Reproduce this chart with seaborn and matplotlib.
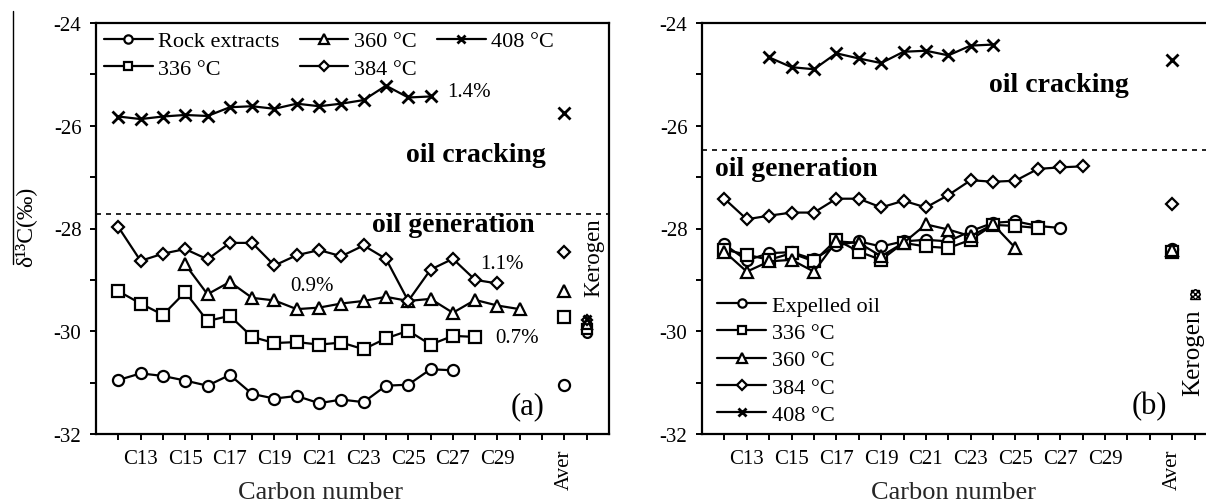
import matplotlib
matplotlib.use("Agg")
import matplotlib.pyplot as plt
import pandas as pd
import seaborn as sns
from matplotlib.lines import Line2D
from matplotlib.ticker import MultipleLocator

# ---------------- data: panel (a) rock extracts and pyrolysis residues ----------------
a_labels = ["Rock extracts", "336 °C", "360 °C", "384 °C", "408 °C"]
a_rock_c = list(range(12, 28))
a_rock = [-30.95, -30.82, -30.87, -30.96, -31.06, -30.85, -31.22, -31.31,
          -31.26, -31.40, -31.33, -31.38, -31.06, -31.04, -30.74, -30.76]
a_336_c = list(range(12, 29))
a_336 = [-29.22, -29.46, -29.68, -29.24, -29.80, -29.70, -30.11, -30.23, -30.21,
         -30.26, -30.22, -30.35, -30.14, -29.99, -30.26, -30.09, -30.11]
a_360_c = list(range(15, 31))
a_360 = [-28.70, -29.28, -29.04, -29.35, -29.40, -29.57, -29.54, -29.46,
         -29.41, -29.33, -29.41, -29.37, -29.64, -29.39, -29.50, -29.57]
a_384_c = list(range(12, 30))
a_384 = [-27.97, -28.63, -28.49, -28.40, -28.60, -28.28, -28.28, -28.72, -28.52,
         -28.42, -28.54, -28.33, -28.59, -29.41, -28.80, -28.59, -29.00, -29.07]
a_408_c = list(range(12, 27))
a_408 = [-25.82, -25.87, -25.82, -25.79, -25.81, -25.64, -25.62, -25.67,
         -25.57, -25.62, -25.57, -25.50, -25.22, -25.45, -25.43]
a_aver = [-31.04, -29.72, -29.22, -28.46, -25.75]
a_kerogen = [-30.03, -29.95, -29.85, -29.78, -29.76]

# ---------------- data: panel (b) expelled oils ----------------
b_labels = ["Expelled oil", "336 °C", "360 °C", "384 °C", "408 °C"]
b_exp_c = list(range(12, 28))
b_exp = [-28.31, -28.62, -28.48, -28.46, -28.60, -28.33, -28.25, -28.35,
         -28.25, -28.22, -28.25, -28.05, -27.89, -27.86, -27.95, -27.99]
b_336_c = list(range(12, 27))
b_336 = [-28.41, -28.51, -28.61, -28.48, -28.64, -28.22, -28.45, -28.61,
         -28.28, -28.35, -28.38, -28.22, -27.93, -27.95, -27.99]
b_360_c = list(range(12, 26))
b_360 = [-28.45, -28.84, -28.64, -28.61, -28.84, -28.25, -28.28, -28.54,
         -28.28, -27.92, -28.02, -28.15, -27.92, -28.38]
b_384_c = list(range(12, 29))
b_384 = [-27.42, -27.82, -27.75, -27.69, -27.69, -27.42, -27.42, -27.59, -27.46,
         -27.59, -27.35, -27.06, -27.09, -27.07, -26.84, -26.81, -26.79]
b_408_c = list(range(14, 25))
b_408 = [-24.67, -24.86, -24.90, -24.59, -24.69, -24.78, -24.56, -24.54,
         -24.63, -24.44, -24.42]
b_aver = [-28.40, -28.45, -28.42, -27.53, -24.72]
b_kerogen = [-29.28, -29.28, -29.28, -29.28, -29.28]

AVER_POS = 32
KEROGEN_POS = 33
tick_positions = list(range(12, 34))

# marker, size, edge width for each of the five series
markers = [("o", 8.0, 1.6), ("s", 8.5, 1.6), ("^", 9.0, 1.6), ("D", 6.2, 1.6), ("x", 8.0, 2.0)]

sns.set_theme(style="ticks")
plt.rcParams.update({
    "font.family": ["Liberation Serif", "DejaVu Serif"],
    "axes.unicode_minus": False,
    "axes.linewidth": 1.6,
    "axes.edgecolor": "black",
    "xtick.color": "black", "ytick.color": "black", "text.color": "black",
    "xtick.major.width": 1.4, "ytick.major.width": 1.4, "ytick.minor.width": 1.4,
    "xtick.major.size": 4.5, "ytick.major.size": 4.5, "ytick.minor.size": 4.5,
    "xtick.labelsize": 15, "ytick.labelsize": 15,
})

fig = plt.figure(figsize=(12.06, 5.02), dpi=100)
ax_a = fig.add_axes([96 / 1206, 67 / 502, 513 / 1206, 411 / 502])
ax_b = fig.add_axes([702 / 1206, 67 / 502, 515 / 1206, 411 / 502])


def draw_series(ax, carbons, values, style, label):
    marker, ms, mew = style
    df = pd.DataFrame({"carbon": carbons, "d13c": values})
    sns.lineplot(data=df, x="carbon", y="d13c", ax=ax, color="black", lw=1.6,
                 marker=marker, markersize=ms, markerfacecolor="white",
                 markeredgecolor="black", markeredgewidth=mew, label=label,
                 legend=False)
    return ax.lines[-1]


def draw_point(ax, x, y, style, scale=1.0, edge=None):
    marker, ms, mew = style
    ax.plot([x], [y], ls="none", marker=marker, markersize=ms * scale,
            markerfacecolor="white", markeredgecolor="black",
            markeredgewidth=mew if edge is None else edge)


def style_axes(ax, xlabel_x):
    ax.set_xlim(11, 34)
    ax.set_ylim(-32, -24)
    ax.yaxis.set_major_locator(MultipleLocator(2))
    ax.yaxis.set_minor_locator(MultipleLocator(1))
    labels = []
    for c in tick_positions:
        if c == AVER_POS:
            labels.append("Aver")
        elif c % 2 == 1 and 13 <= c <= 29:
            labels.append(f"C{c}")
        else:
            labels.append("")
    ax.set_xticks(tick_positions)
    ax.set_xticklabels(labels)
    for t, c in zip(ax.get_xticklabels(), tick_positions):
        if c == AVER_POS:
            t.set_rotation(90)
    ax.tick_params(axis="x", which="both", direction="out", pad=6)
    ax.tick_params(axis="y", which="both", direction="out", pad=6)
    ax.set_ylabel("")
    ax.set_xlabel("Carbon number", fontsize=19)
    ax.xaxis.set_label_coords(xlabel_x, -0.14)
    ax.xaxis.label.set_va("center")
    for s in ax.spines.values():
        s.set_linewidth(1.6)
        s.set_color("black")


# ---------------- panel (a) ----------------
a_series = [(a_rock_c, a_rock), (a_336_c, a_336), (a_360_c, a_360),
            (a_384_c, a_384), (a_408_c, a_408)]
a_handles = []
for (cs, vs), st, lab in zip(a_series, markers, a_labels):
    a_handles.append(draw_series(ax_a, cs, vs, st, lab))
for v, st in zip(a_aver, markers):
    draw_point(ax_a, AVER_POS, v, st)
for v, st in zip(a_kerogen, markers):
    draw_point(ax_a, KEROGEN_POS, v, st, scale=0.8)

ax_a.axhline(-27.72, color="black", lw=1.2, ls=(0, (3, 3)))
ax_a.text(28.04, -26.55, "oil cracking", fontsize=20, fontweight="bold",
          ha="center", va="center")
ax_a.text(27.0, -27.93, "oil generation", fontsize=20, fontweight="bold",
          ha="center", va="center")
ax_a.text(26.73, -25.34, "1.4%", fontsize=15, ha="left", va="center")
ax_a.text(19.73, -29.11, "0.9%", fontsize=15, ha="left", va="center")
ax_a.text(28.22, -28.69, "1.1%", fontsize=15, ha="left", va="center")
ax_a.text(28.89, -30.12, "0.7%", fontsize=15, ha="left", va="center")
ax_a.text(30.33, -31.45, "(a)", fontsize=22, ha="center", va="center")
ax_a.text(33.3, -28.55, "Kerogen", fontsize=16.5, rotation=90, ha="center", va="center")

ax_a.legend(a_handles, a_labels, loc="upper left", ncol=3, frameon=False,
            fontsize=16, handlelength=2.2, handletextpad=0.25, columnspacing=0.9,
            labelspacing=0.3, borderaxespad=0.15, borderpad=0.2, markerscale=0.75)
style_axes(ax_a, 0.437)

# ---------------- panel (b) ----------------
b_series = [(b_exp_c, b_exp), (b_336_c, b_336), (b_360_c, b_360),
            (b_384_c, b_384), (b_408_c, b_408)]
b_handles = []
for (cs, vs), st, lab in zip(b_series, markers, b_labels):
    b_handles.append(draw_series(ax_b, cs, vs, st, lab))
for v, st in zip(b_aver, markers):
    draw_point(ax_b, AVER_POS, v, st)
for v, st in zip(b_kerogen, markers):
    draw_point(ax_b, KEROGEN_POS, v, st, scale=0.75, edge=1.0)

ax_b.axhline(-26.48, color="black", lw=1.2, ls=(0, (3, 3)))
ax_b.text(26.94, -25.19, "oil cracking", fontsize=20, fontweight="bold",
          ha="center", va="center")
ax_b.text(15.2, -26.84, "oil generation", fontsize=20, fontweight="bold",
          ha="center", va="center")
ax_b.text(31.0, -31.45, "(b)", fontsize=22, ha="center", va="center")
ax_b.text(32.95, -30.40, "Kerogen", fontsize=18, rotation=90, ha="center", va="center")

ax_b.legend(b_handles, b_labels, loc="lower left", bbox_to_anchor=(0.017, 0.006),
            ncol=1, frameon=False, fontsize=16, handlelength=2.2,
            handletextpad=0.25, labelspacing=0.3, borderaxespad=0.0,
            borderpad=0.3, markerscale=0.75)
style_axes(ax_b, 0.488)

# ---------------- shared y label ----------------
fig.text(25 / 1206, 1 - 227 / 502, "δ¹³C(‰)", rotation=90, ha="center",
         va="center", fontsize=17)
fig.add_artist(Line2D([13 / 1206, 13 / 1206], [1 - 265 / 502, 1 - 12 / 502],
                      transform=fig.transFigure, color="black", lw=1.0))

fig.savefig("out.png", dpi=100)
